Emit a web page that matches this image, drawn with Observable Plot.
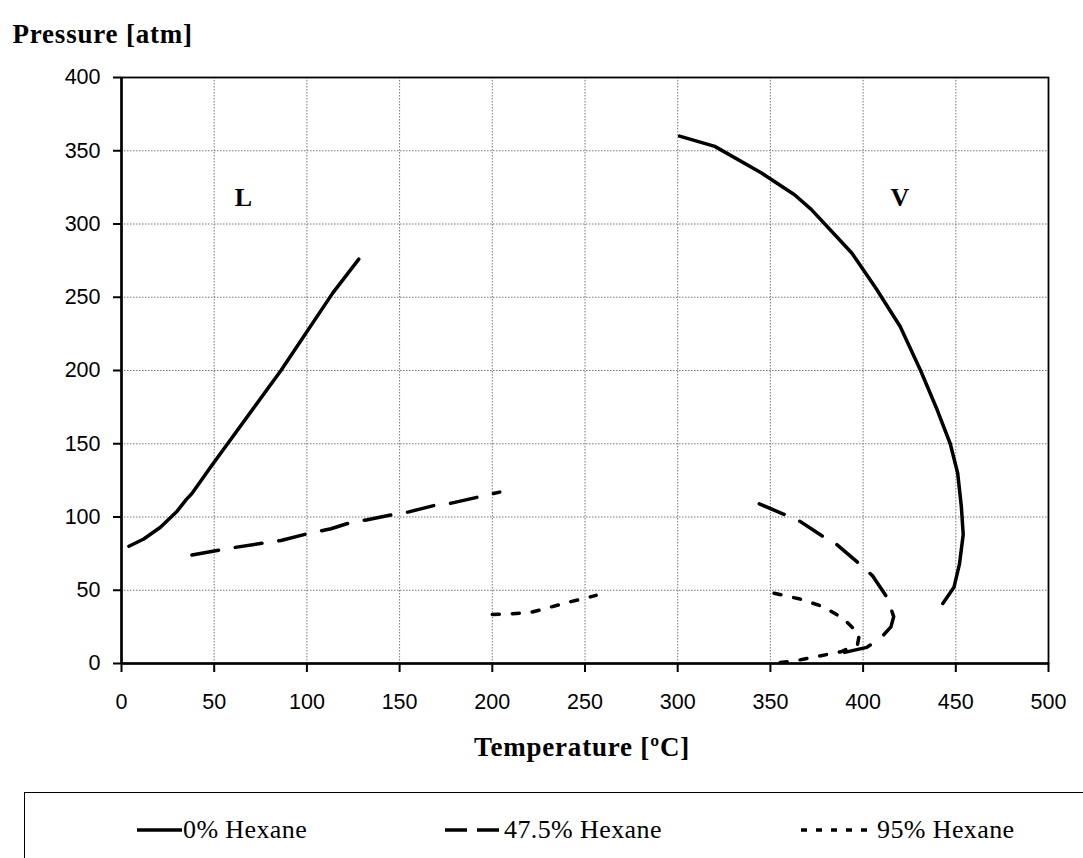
<!DOCTYPE html>
<html>
<head>
<meta charset="utf-8">
<script src="https://cdn.jsdelivr.net/npm/d3@7"></script>
<script src="https://cdn.jsdelivr.net/npm/@observablehq/plot@0.6"></script>
<style>
  html, body { margin: 0; padding: 0; background: #fff; }
  body { width: 1083px; height: 858px; overflow: hidden; position: relative; }
  #chart { position: absolute; left: 0; top: 0; }
  #chart svg g[font-weight="bold"] text { letter-spacing: 0.8px; }
  #legend { position: absolute; left: 24px; top: 792px; width: 1120px; height: 120px;
            border: 1.5px solid #000; box-sizing: border-box;
            font-family: "Liberation Serif", "Times New Roman", serif; font-size: 26px; color: #000; }
  .item { position: absolute; top: 22px; height: 30px; display: flex; align-items: center; white-space: nowrap; letter-spacing: 0.4px; }
  .item svg { display: block; }
</style>
</head>
<body>
<div id="chart"></div>
<div id="legend"></div>
<script>
// ---- Data ----
const seriesNames = ["0% Hexane", "47.5% Hexane", "95% Hexane"];

// 0% Hexane — liquid-side branch
const temp0L = [4, 12, 21, 30, 35, 38, 48, 86, 114, 128];
const pres0L = [80, 85, 93, 104, 112, 116, 134, 200, 253, 276];
// 0% Hexane — vapour-side branch
const temp0V = [301, 320, 345, 363, 372, 386, 394, 400, 407, 414, 420, 431, 440, 447, 451, 453, 454, 452, 449, 443];
const pres0V = [360, 353, 335, 320, 310, 291, 280, 269, 256, 242, 230, 200, 173, 150, 130, 107, 88, 68, 52, 41];

// 47.5% Hexane
const temp47L = [38, 60, 86, 100, 113, 123, 132, 146, 155, 169, 178, 192, 204];
const pres47L = [74, 79, 84, 88.5, 92, 96, 98, 101.5, 103.5, 108, 109.5, 113.5, 117];
const temp47V = [344, 357, 366, 378, 386, 398, 405, 413, 416.5, 415, 410, 402, 388];
const pres47V = [109, 102, 97, 87, 81, 68, 60, 45, 32, 25, 18, 11, 7];

// 95% Hexane
const temp95L = [200, 211, 221, 230, 240, 250, 256];
const pres95L = [33.5, 34, 35, 38, 41.5, 44.5, 46.5];
const temp95V = [352, 366, 378, 389, 398, 397, 388, 376, 364, 351];
const pres95V = [48, 44, 39, 31, 20, 13, 8, 5, 2, 0];

// Region labels
const regionLabels = ["L", "V"];
const regionTemps = [66, 420];
const regionPres = [318, 318];

// Axis ticks
const xTicks = [0, 50, 100, 150, 200, 250, 300, 350, 400, 450, 500];
const yTicks = [0, 50, 100, 150, 200, 250, 300, 350, 400];

// ---- Build table ----
const rows = [];
function addPart(series, part, temps, pres) {
  temps.forEach((t, i) => rows.push({series, part, t, p: pres[i]}));
}
addPart(seriesNames[0], "L", temp0L, pres0L);
addPart(seriesNames[0], "V", temp0V, pres0V);
addPart(seriesNames[1], "L", temp47L, pres47L);
addPart(seriesNames[1], "V", temp47V, pres47V);
addPart(seriesNames[2], "L", temp95L, pres95L);
addPart(seriesNames[2], "V", temp95V, pres95V);

const dashes = {"0% Hexane": null, "47.5% Hexane": "27,17", "95% Hexane": "7,13"};

const serif = "'Liberation Serif', 'Times New Roman', serif";
const sans = "'Liberation Sans', Arial, sans-serif";

const lineMarks = seriesNames.map(s =>
  Plot.line(rows.filter(d => d.series === s), {
    x: "t", y: "p", z: "part",
    stroke: "black", strokeWidth: 3.5,
    strokeDasharray: dashes[s] || undefined,
    strokeLinejoin: "round"
  })
);

const plot = Plot.plot({
  width: 1083,
  height: 790,
  marginTop: 77,
  marginBottom: 127,
  marginLeft: 121,
  marginRight: 35,
  style: {fontFamily: sans, fontSize: "21px", background: "white", color: "black"},
  x: {domain: [0, 500]},
  y: {domain: [0, 400]},
  marks: [
    Plot.gridX(xTicks, {stroke: "#777", strokeOpacity: 1, strokeWidth: 1, strokeDasharray: "1.5,1.5"}),
    Plot.gridY(yTicks, {stroke: "#777", strokeOpacity: 1, strokeWidth: 1, strokeDasharray: "1.5,1.5"}),
    Plot.frame({stroke: "black", strokeWidth: 1.8}),
    Plot.ruleX([0], {stroke: "black", strokeWidth: 2.5}),
    Plot.ruleY([0], {stroke: "black", strokeWidth: 2.5}),
    Plot.axisX({ticks: xTicks, tickSize: 9, tickPadding: 21, label: null, strokeWidth: 2, fontSize: 21.5}),
    Plot.axisY({ticks: yTicks, tickSize: 8, tickPadding: 13, label: null, strokeWidth: 2, fontSize: 21.5}),
    ...lineMarks,
    Plot.text(regionLabels, {x: (d, i) => regionTemps[i], y: (d, i) => regionPres[i], text: d => d,
      fontFamily: serif, fontWeight: "bold", fontSize: 26}),
    Plot.text(["Pressure [atm]"], {frameAnchor: "top-left", textAnchor: "start", dx: -109, dy: -54,
      fontFamily: serif, fontWeight: "bold", fontSize: 27}),
    Plot.text(["Temperature [ºC]"], {frameAnchor: "bottom", dx: -3, dy: 92,
      fontFamily: serif, fontWeight: "bold", fontSize: 27})
  ]
});
document.getElementById("chart").appendChild(plot);

// ---- Legend ----
const legendX = [112, 420, 776];
const sampleW = [45, 58, 75];
const sampleDash = [null, "22,10", "6,9"];
const legend = document.getElementById("legend");
seriesNames.forEach((name, i) => {
  const item = document.createElement("div");
  item.className = "item";
  item.style.left = legendX[i] + "px";
  const ns = "http://www.w3.org/2000/svg";
  const svg = document.createElementNS(ns, "svg");
  svg.setAttribute("width", sampleW[i]);
  svg.setAttribute("height", 10);
  const ln = document.createElementNS(ns, "line");
  ln.setAttribute("x1", 0); ln.setAttribute("x2", sampleW[i]);
  ln.setAttribute("y1", 5); ln.setAttribute("y2", 5);
  ln.setAttribute("stroke", "black");
  ln.setAttribute("stroke-width", 3.5);
  if (sampleDash[i]) ln.setAttribute("stroke-dasharray", sampleDash[i]);
  svg.appendChild(ln);
  item.appendChild(svg);
  const span = document.createElement("span");
  span.textContent = name;
  span.style.marginLeft = "1px";
  item.appendChild(span);
  legend.appendChild(item);
});
</script>
</body>
</html>
